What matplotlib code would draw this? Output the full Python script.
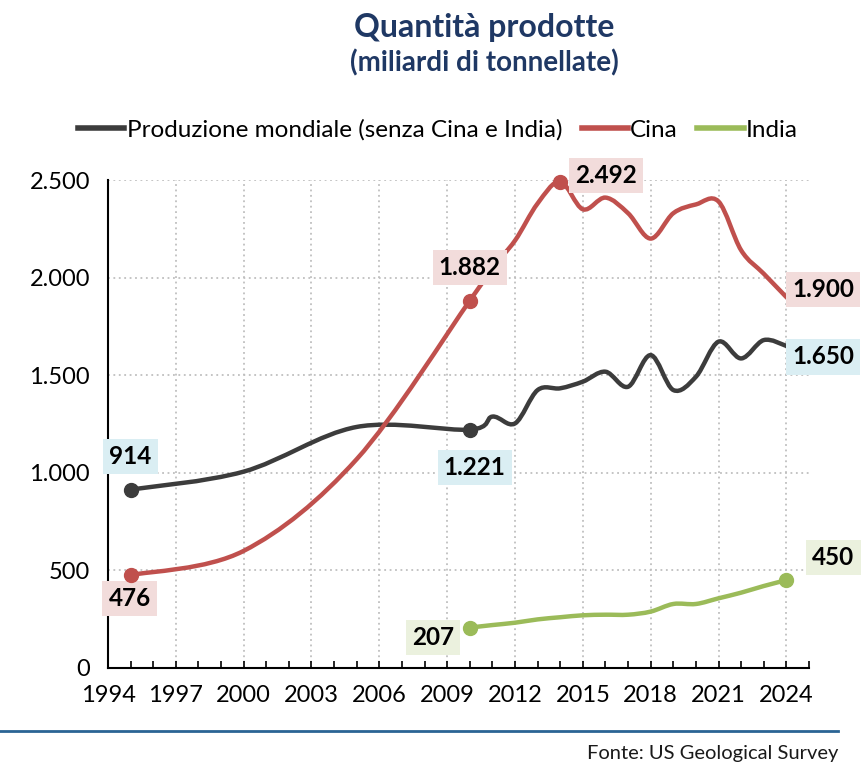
import numpy as np
import matplotlib
matplotlib.use('Agg')
import matplotlib.pyplot as plt
from matplotlib.path import Path
from matplotlib.patches import PathPatch
from matplotlib.lines import Line2D
from matplotlib.ticker import FuncFormatter, MultipleLocator

plt.rcParams['font.family'] = ['Lato', 'DejaVu Sans']

# Data
years_world = [1995, 2000, 2005, 2010, 2011, 2012, 2013, 2014, 2015, 2016, 2017,
               2018, 2019, 2020, 2021, 2022, 2023, 2024]
world = [914, 1006, 1235, 1221, 1288, 1253, 1424, 1433, 1467, 1518, 1441,
         1603, 1424, 1492, 1672, 1586, 1680, 1650]

years_china = [1995, 2000, 2005, 2010, 2011, 2012, 2013, 2014, 2015, 2016, 2017,
               2018, 2019, 2020, 2021, 2022, 2023, 2024]
china = [476, 600, 1070, 1882, 2050, 2190, 2380, 2492, 2350, 2410, 2330,
         2200, 2330, 2375, 2390, 2140, 2020, 1900]

years_india = [2010, 2011, 2012, 2013, 2014, 2015, 2016, 2017, 2018, 2019, 2020,
               2021, 2022, 2023, 2024]
india = [207, 220, 232, 249, 260, 270, 273, 273, 289, 328, 328, 357, 386, 420, 450]

series_names = ['Produzione mondiale (senza Cina e India)', 'Cina', 'India']
line_colors = ['#3C3C3C', '#C0504D', '#9BBB59']
box_colors = ['#DAEEF3', '#F2DCDB', '#EBF1DE']


def smooth_path(xs, ys):
    # Excel-like smoothed line: Catmull-Rom as cubic Bezier segments
    pts = np.column_stack([xs, ys]).astype(float)
    verts = [pts[0]]
    codes = [Path.MOVETO]
    n = len(pts)
    for i in range(n - 1):
        p0 = pts[i - 1] if i > 0 else pts[i]
        p1 = pts[i]
        p2 = pts[i + 1]
        p3 = pts[i + 2] if i + 2 < n else pts[i + 1]
        c1 = p1 + (p2 - p0) / 6.0
        c2 = p2 - (p3 - p1) / 6.0
        verts += [c1, c2, p2]
        codes += [Path.CURVE4] * 3
    return Path(verts, codes)


def fmt_it(v, pos=None):
    return f'{int(v):,}'.replace(',', '.')


fig = plt.figure(figsize=(8.61, 7.71), dpi=100)
ax = fig.add_axes([0.1254, 0.1336, 0.8142, 0.6329])

all_series = [(years_world, world), (years_china, china), (years_india, india)]
for (xs, ys), col in zip(all_series, line_colors):
    ax.add_patch(PathPatch(smooth_path(xs, ys), facecolor='none', edgecolor=col,
                           lw=3.2, capstyle='round', joinstyle='round', zorder=3,
                           clip_on=False))

# Highlighted points and labels: (series index, year, value, offset in pixels)
marks = [
    (0, years_world[0], world[0], (0, 33)),
    (0, 2010, world[years_world.index(2010)], (5, -38)),
    (0, years_world[-1], world[-1], (37, -11)),
    (1, years_china[0], china[0], (-1, -23)),
    (1, 2010, china[years_china.index(2010)], (0, 33)),
    (1, 2014, china[years_china.index(2014)], (46, 6)),
    (1, years_china[-1], china[-1], (37, 8)),
    (2, years_india[0], india[0], (-37, -10)),
    (2, years_india[-1], india[-1], (47, 23)),
]
for si, x, y, off in marks:
    if not (si < 2 and x == 2024):
        ax.plot([x], [y], 'o', color=line_colors[si], ms=10, zorder=6, clip_on=False)
    ax.annotate(fmt_it(y), (x, y), xytext=off, textcoords='offset pixels',
                ha='center', va='center', fontsize=17.5, fontweight='bold',
                color='black', zorder=5,
                bbox=dict(boxstyle='square,pad=0.25', fc=box_colors[si], ec='none'))

ax.set_xlim(1994, 2025)
ax.set_ylim(0, 2500)
ax.xaxis.set_minor_locator(MultipleLocator(1))
ax.yaxis.set_major_locator(MultipleLocator(500))
ax.yaxis.set_major_formatter(FuncFormatter(fmt_it))
ax.set_xticks(range(1994, 2025, 3))

ax.grid(True, axis='both', which='major', color='#BFBFBF', lw=1.3,
        linestyle=(0, (1, 2)))
ax.set_axisbelow(True)
for s in ['top', 'right']:
    ax.spines[s].set_visible(False)
ax.spines['left'].set_linewidth(1.5)
ax.spines['bottom'].set_linewidth(1.5)
ax.tick_params(axis='x', which='both', direction='in', length=5, width=1.2,
               labelsize=17, pad=12)
ax.tick_params(axis='y', length=0, labelsize=17, pad=13)

# Legend
handles = [Line2D([], [], color=c, lw=4) for c in line_colors]
fig.legend(handles, series_names, loc='center', bbox_to_anchor=(438 / 861, 1 - 130 / 771),
           ncol=3, frameon=False, fontsize=17.5, handlelength=1.9, handletextpad=0.1,
           columnspacing=0.8)

# Titles
fig.text(484 / 861, 1 - 28 / 771, 'Quantità prodotte', ha='center', va='center',
         fontsize=23, fontweight='bold', color='#1F3864')
fig.text(484 / 861, 1 - 63 / 771, '(miliardi di tonnellate)', ha='center', va='center',
         fontsize=20, fontweight='bold', color='#1F3864')

# Footer
fig.add_artist(Line2D([0, 838 / 861], [1 - 731 / 771] * 2, color='#2A6494', lw=2))
fig.text(838 / 861, 1 - 754 / 771, 'Fonte: US Geological Survey', ha='right',
         va='center', fontsize=14.5, color='#1A1A1A')

fig.savefig('out.png', dpi=100)
